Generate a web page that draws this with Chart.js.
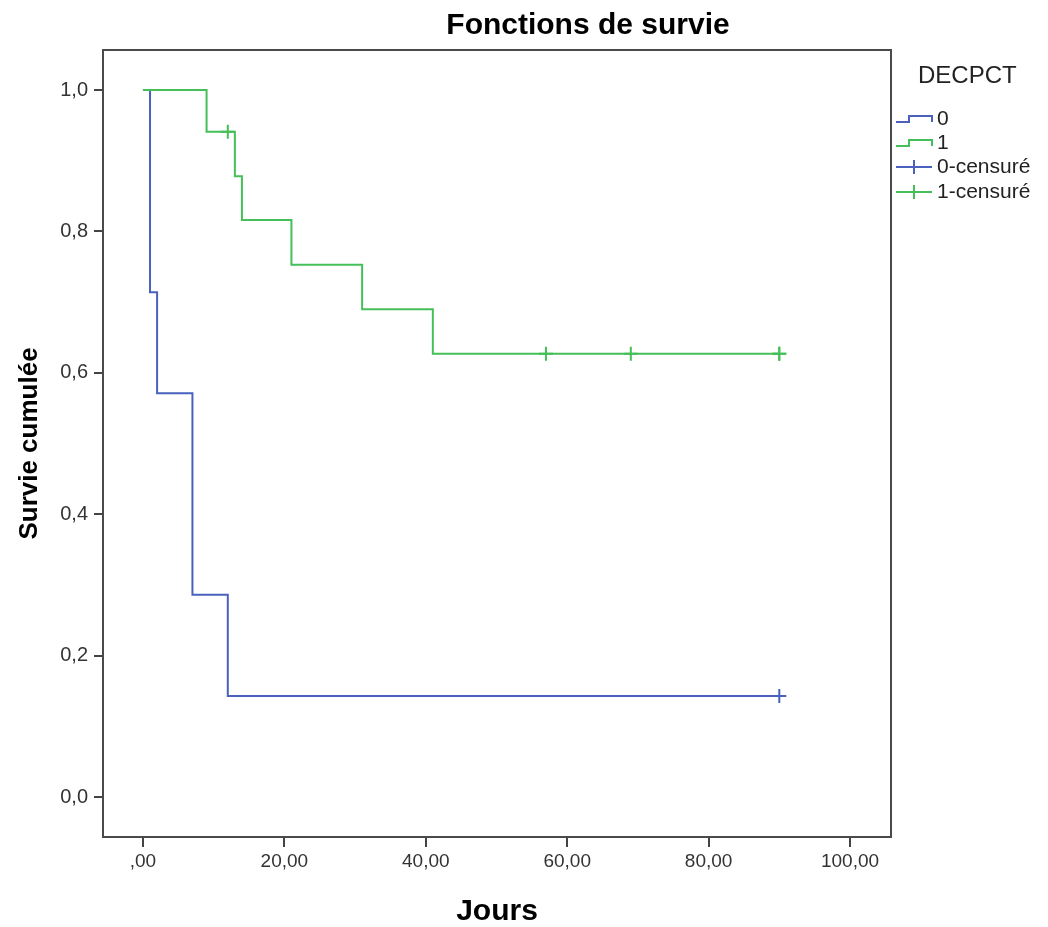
<!DOCTYPE html>
<html>
<head>
<meta charset="utf-8">
<script src="https://cdn.jsdelivr.net/npm/chart.js@4.4.1/dist/chart.umd.min.js"></script>
<style>
  html, body { margin: 0; padding: 0; background: #fff; }
  #wrap { width: 1048px; height: 927px; }
</style>
</head>
<body>
<div id="wrap"><canvas id="myChart" width="1048" height="927"></canvas></div>
<script>
// Kaplan-Meier, groupe DECPCT = 0
const temps0 = [0, 1, 2, 7, 12, 90];
const survie0 = [1, 0.714, 0.571, 0.286, 0.143, 0.143];
// groupe DECPCT = 1
const temps1 = [0, 9, 13, 14, 21, 31, 41, 90];
const survie1 = [1, 0.941, 0.878, 0.816, 0.753, 0.690, 0.627, 0.627];
// observations censurées
const censTemps0 = [90];
const censSurvie0 = [0.143];
const censTemps1 = [12, 57, 69, 90, 90];
const censSurvie1 = [0.941, 0.627, 0.627, 0.627, 0.627];

const xTicks = [0, 20, 40, 60, 80, 100];
const xTickLabels = [',00', '20,00', '40,00', '60,00', '80,00', '100,00'];
const yTicks = [0, 0.2, 0.4, 0.6, 0.8, 1.0];
const yTickLabels = ['0,0', '0,2', '0,4', '0,6', '0,8', '1,0'];

const titre = 'Fonctions de survie';
const legendeTitre = 'DECPCT';
const legendeLabels = ['0', '1', '0-censuré', '1-censuré'];

const bleu = '#4a62bd';
const vert = '#45bf58';
const police = "'Liberation Sans', Arial, sans-serif";

const pts = (xs, ys) => xs.map((x, i) => ({ x: x, y: ys[i] }));

const cadre = {
  id: 'cadre',
  afterDraw(chart) {
    const ctx = chart.ctx;
    const a = chart.chartArea;
    ctx.save();
    ctx.strokeStyle = '#4a4a4a';
    ctx.lineWidth = 2;
    ctx.strokeRect(a.left, a.top, a.right - a.left, a.bottom - a.top);

    ctx.fillStyle = '#000';
    ctx.textAlign = 'center';
    ctx.textBaseline = 'middle';
    ctx.font = 'bold 30px ' + police;
    ctx.fillText(titre, 588, 26);

    // légende
    ctx.fillStyle = '#222';
    ctx.textAlign = 'left';
    ctx.font = '24px ' + police;
    ctx.fillText(legendeTitre, 918, 76);
    ctx.font = '21px ' + police;
    const couleurs = [bleu, vert, bleu, vert];
    const ys = [119, 143, 167, 192];
    ctx.lineWidth = 2;
    legendeLabels.forEach((lab, i) => {
      const y = ys[i];
      ctx.strokeStyle = couleurs[i];
      ctx.beginPath();
      if (i < 2) {
        ctx.moveTo(896, y + 3); ctx.lineTo(909, y + 3); ctx.lineTo(909, y - 3);
        ctx.lineTo(932, y - 3); ctx.lineTo(932, y + 3);
      } else {
        ctx.moveTo(896, y); ctx.lineTo(932, y);
        ctx.moveTo(914, y - 7); ctx.lineTo(914, y + 7);
      }
      ctx.stroke();
      ctx.fillStyle = '#222';
      ctx.fillText(lab, 937, y);
    });
    ctx.restore();
  }
};

let chart = document.getElementById('myChart').getContext('2d');
let myChart = new Chart(chart, {
  type: 'scatter',
  data: {
    datasets: [
      { label: '0', data: pts(temps0, survie0), showLine: true, stepped: 'before',
        borderColor: bleu, borderWidth: 2, pointRadius: 0, order: 1 },
      { label: '1', data: pts(temps1, survie1), showLine: true, stepped: 'before',
        borderColor: vert, borderWidth: 2, pointRadius: 0, order: 0 },
      { label: '0-censuré', data: pts(censTemps0, censSurvie0), showLine: false,
        pointStyle: 'cross', pointRadius: 7, borderColor: bleu, pointBorderWidth: 2, order: 0 },
      { label: '1-censuré', data: pts(censTemps1, censSurvie1), showLine: false,
        pointStyle: 'cross', pointRadius: 7, borderColor: vert, pointBorderWidth: 2, order: 0 }
    ]
  },
  options: {
    responsive: false,
    animation: false,
    devicePixelRatio: 1,
    layout: { padding: { top: 50, right: 157, left: 0, bottom: 0 } },
    plugins: { legend: { display: false }, tooltip: { enabled: false } },
    scales: {
      x: {
        type: 'linear', min: -5.65, max: 105.8,
        afterBuildTicks: s => { s.ticks = xTicks.map(v => ({ value: v })); },
        afterFit: s => { s.height = 90; },
        ticks: {
          autoSkip: false, maxRotation: 0, padding: 3, color: '#333',
          font: { family: police, size: 19 },
          callback: v => xTickLabels[xTicks.indexOf(v)]
        },
        grid: { drawOnChartArea: false, drawTicks: true, tickLength: 10, color: '#444', lineWidth: 2 },
        border: { display: false },
        title: { display: true, text: 'Jours', color: '#000',
          font: { family: police, size: 30, weight: 'bold', lineHeight: 1 },
          padding: { top: 0, bottom: 0 } }
      },
      y: {
        type: 'linear', min: -0.0566, max: 1.0566,
        afterBuildTicks: s => { s.ticks = yTicks.map(v => ({ value: v })); },
        afterFit: s => { s.width = 103; },
        ticks: {
          autoSkip: false, padding: 6, color: '#333',
          font: { family: police, size: 20 },
          callback: v => yTickLabels[yTicks.findIndex(t => Math.abs(t - v) < 1e-6)]
        },
        grid: { drawOnChartArea: false, drawTicks: true, tickLength: 9, color: '#444', lineWidth: 2 },
        border: { display: false },
        title: { display: true, text: 'Survie cumulée', color: '#000',
          font: { family: police, size: 26, weight: 'bold' },
          padding: { top: 14, bottom: 0 } }
      }
    }
  },
  plugins: [cadre]
});
</script>
</body>
</html>
